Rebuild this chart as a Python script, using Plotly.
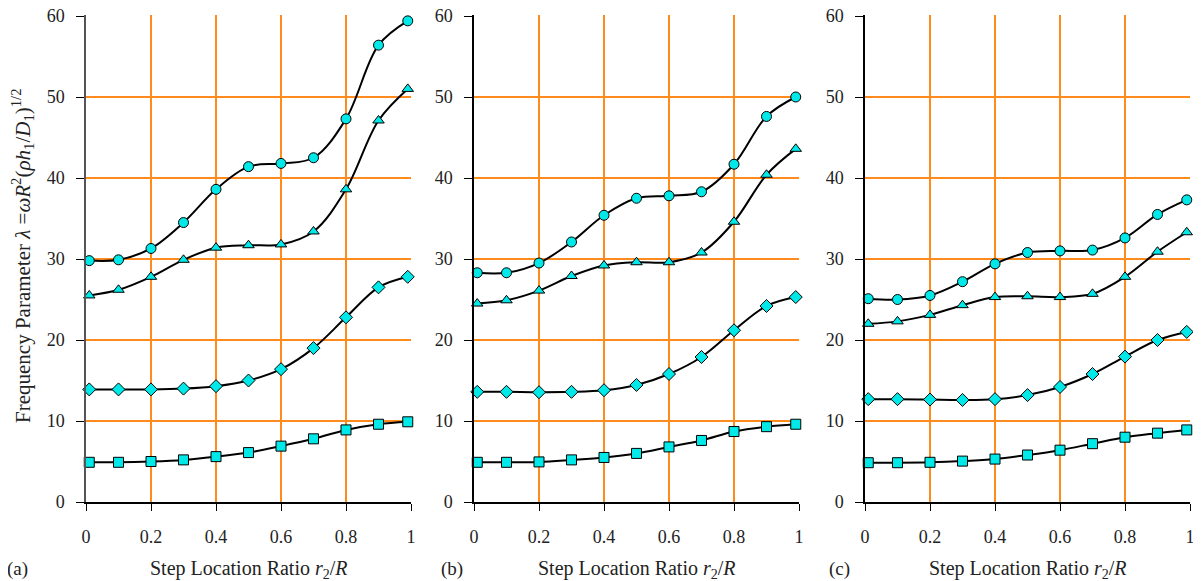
import plotly.graph_objects as go

# x positions (step location ratio r2/R)
x_vals = [0.01, 0.1, 0.2, 0.3, 0.4, 0.5, 0.6, 0.7, 0.8, 0.9, 0.99]

# Panel (a)
a_circle = [29.8, 29.9, 31.3, 34.5, 38.6, 41.4, 41.8, 42.5, 47.3, 56.4, 59.4]
a_triangle = [25.5, 26.2, 27.8, 29.9, 31.4, 31.7, 31.8, 33.4, 38.6, 47.1, 51.0]
a_diamond = [13.9, 13.9, 13.9, 14.0, 14.3, 15.0, 16.4, 19.0, 22.8, 26.5, 27.8]
a_square = [4.9, 4.9, 5.0, 5.2, 5.6, 6.1, 6.9, 7.8, 8.9, 9.6, 9.9]

# Panel (b)
b_circle = [28.3, 28.3, 29.5, 32.1, 35.4, 37.5, 37.8, 38.3, 41.7, 47.6, 50.0]
b_triangle = [24.5, 24.9, 26.1, 27.9, 29.2, 29.6, 29.6, 30.8, 34.6, 40.4, 43.6]
b_diamond = [13.6, 13.6, 13.55, 13.6, 13.8, 14.45, 15.8, 17.9, 21.2, 24.2, 25.3]
b_square = [4.9, 4.9, 4.95, 5.2, 5.5, 6.0, 6.8, 7.6, 8.7, 9.3, 9.6]

# Panel (c)
c_circle = [25.1, 25.0, 25.5, 27.2, 29.4, 30.8, 31.0, 31.1, 32.6, 35.5, 37.3]
c_triangle = [22.0, 22.3, 23.1, 24.3, 25.3, 25.4, 25.3, 25.7, 27.8, 30.9, 33.3]
c_diamond = [12.7, 12.7, 12.65, 12.6, 12.7, 13.2, 14.2, 15.8, 17.95, 20.0, 21.0]
c_square = [4.85, 4.85, 4.9, 5.05, 5.3, 5.8, 6.4, 7.2, 8.0, 8.5, 8.9]

x_tickvals = [0, 0.2, 0.4, 0.6, 0.8, 1]
x_ticktext = ["0", "0.2", "0.4", "0.6", "0.8", "1"]
y_tickvals = [0, 10, 20, 30, 40, 50, 60]
panel_labels = ["(a)", "(b)", "(c)"]
x_title = "Step Location Ratio <i>r</i><sub>2</sub>/<i>R</i>"
y_title = ("Frequency Parameter <i>λ</i> =<i>ω</i><i>R</i><sup>2</sup>(<i>ρh</i><sub>1</sub>/"
           "<i>D</i><sub>1</sub>)<sup>1/2</sup>")

OFF = 8  # page body margin in the browser
W, H = 1201 - OFF, 581 - OFF
FONT = "Liberation Serif"
CYAN = "#00E8E8"
GRID = "#FF8A1E"
TXT = "#222222"

panels = [
    (a_circle, a_triangle, a_diamond, a_square),
    (b_circle, b_triangle, b_diamond, b_square),
    (c_circle, c_triangle, c_diamond, c_square),
]
symbols = [("circle", 10), ("triangle-up", 10), ("diamond", 10), ("square", 10)]
# plot-area pixel spans (window coords): 65 px per 0.2 step so grid lines land on whole pixels
x_px = [(86, 411), (474, 799), (865, 1190)]
PX_PER_10 = 81
y0_px = 502
Y_EXT = 60 + 10 / PX_PER_10       # one pixel of headroom so the 60 grid line is drawn
y_top = y0_px - PX_PER_10 * Y_EXT / 10
axis_colors = ["#555555", "#000000", "#000000"]


def px_x(p):
    return (p - OFF) / W


def px_y(p):
    return (H - (p - OFF)) / H


fig = go.Figure()
for i, series in enumerate(panels):
    xa = "x" if i == 0 else f"x{i+1}"
    ya = "y" if i == 0 else f"y{i+1}"
    for vals, (sym, sz) in zip(series, symbols):
        fig.add_trace(go.Scatter(
            x=x_vals, y=vals, xaxis=xa, yaxis=ya, mode="lines+markers",
            line=dict(color="black", width=2, shape="spline", smoothing=1.0),
            marker=dict(symbol=sym, size=sz, color=CYAN, line=dict(color="black", width=1)),
            showlegend=False, hoverinfo="skip", cliponaxis=False))

layout = dict(
    width=W, height=H, margin=dict(l=0, r=0, t=0, b=0, pad=0, autoexpand=False),
    paper_bgcolor="white", plot_bgcolor="white",
    font=dict(family=FONT, size=18, color=TXT),
    showlegend=False,
)
for i in range(3):
    xk = "xaxis" if i == 0 else f"xaxis{i+1}"
    yk = "yaxis" if i == 0 else f"yaxis{i+1}"
    x0, x1 = x_px[i]
    layout[xk] = dict(
        domain=[px_x(x0), px_x(x1)], range=[0, 1], anchor="y" if i == 0 else f"y{i+1}",
        tickvals=x_tickvals, ticktext=x_ticktext, ticks="outside", ticklen=7,
        tickcolor="black", showline=True, linecolor="black", linewidth=1.5,
        showgrid=True, gridcolor=GRID, gridwidth=1.6, zeroline=False, automargin=False,
        tickfont=dict(family=FONT, size=18, color=TXT), ticklabelstandoff=11,
        ticklabeloverflow="allow", fixedrange=True)
    layout[yk] = dict(
        domain=[px_y(y0_px), px_y(y_top)], range=[0, Y_EXT],
        anchor="x" if i == 0 else f"x{i+1}",
        tickvals=y_tickvals, ticks="outside", ticklen=8, tickcolor="black",
        showline=True, linecolor=axis_colors[i], linewidth=1.5,
        showgrid=True, gridcolor=GRID, gridwidth=1.6, zeroline=False, automargin=False,
        tickfont=dict(family=FONT, size=18, color=TXT), ticklabelstandoff=8,
        ticklabeloverflow="allow", fixedrange=True)

fig.update_layout(**layout)

annotations = []
label_x = [17, 452, 840]
for i in range(3):
    x0, x1 = x_px[i]
    annotations.append(dict(text=x_title, x=px_x((x0 + x1) / 2), y=px_y(569),
                            xref="paper", yref="paper", showarrow=False,
                            xanchor="center", yanchor="middle",
                            font=dict(family=FONT, size=20, color=TXT)))
    annotations.append(dict(text=panel_labels[i], x=px_x(label_x[i]), y=px_y(569),
                            xref="paper", yref="paper", showarrow=False,
                            xanchor="center", yanchor="middle",
                            font=dict(family=FONT, size=19, color=TXT)))
annotations.append(dict(text=y_title, x=px_x(22), y=px_y(256), xref="paper", yref="paper",
                        showarrow=False, textangle=-90, xanchor="center", yanchor="middle",
                        font=dict(family=FONT, size=21, color=TXT)))
fig.update_layout(annotations=annotations)

fig.write_html("out.html")
